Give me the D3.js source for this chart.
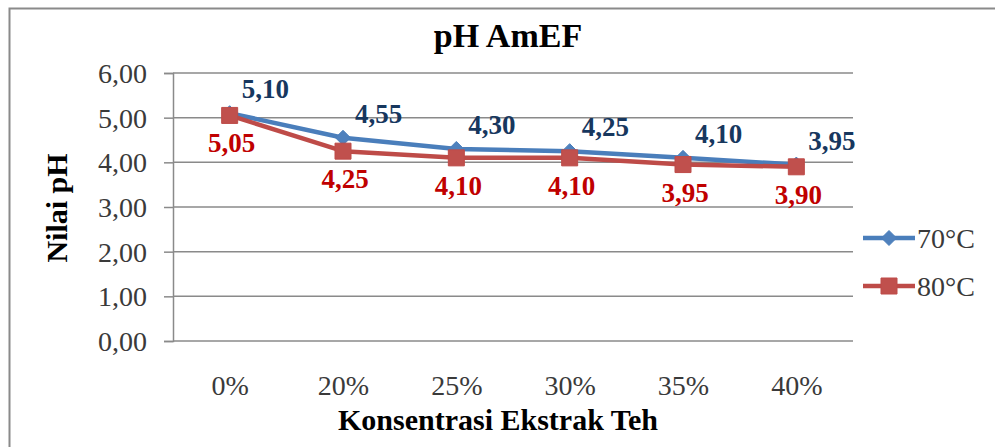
<!DOCTYPE html>
<html>
<head>
<meta charset="utf-8">
<script src="https://d3js.org/d3.v7.min.js"></script>
<style>
  body { margin: 0; background: #fff; }
  svg { display: block; font-family: "Liberation Serif", "Times New Roman", serif; }
</style>
</head>
<body>
<svg id="chart" width="995" height="447"></svg>
<script>
// data
var categories = ["0%", "20%", "25%", "30%", "35%", "40%"];
var seriesNames = ["70°C", "80°C"];
var values70 = [5.10, 4.55, 4.30, 4.25, 4.10, 3.95];
var values80 = [5.05, 4.25, 4.10, 4.10, 3.95, 3.90];
var yTicks = [0, 1, 2, 3, 4, 5, 6];

var fmt = function(v) { return v.toFixed(2).replace(".", ","); };

var svg = d3.select("#chart");

// chart border
svg.append("rect")
    .attr("x", 9.5).attr("y", 8.5)
    .attr("width", 1100).attr("height", 600)
    .attr("fill", "#fff")
    .attr("stroke", "#8a8a8a")
    .attr("stroke-width", 2);

var plot = { left: 173, right: 853, top: 73, bottom: 341 };

var x = d3.scalePoint()
    .domain(categories)
    .range([plot.left, plot.right])
    .padding(0.5);

var y = d3.scaleLinear()
    .domain([0, 6])
    .range([plot.bottom, plot.top]);

// gridlines + y axis
var yAxis = d3.axisLeft(y)
    .tickValues(yTicks)
    .tickSize(9)
    .tickFormat(fmt);

var gy = svg.append("g")
    .attr("transform", "translate(" + plot.left + ",0)")
    .call(yAxis);
gy.select(".domain").attr("stroke", "#8a8a8a").attr("stroke-width", 1.5);
gy.selectAll(".tick line").attr("stroke", "#8a8a8a").attr("stroke-width", 1.5);
gy.selectAll(".tick text")
    .attr("x", -26)
    .attr("dy", "0.34em")
    .attr("fill", "#3a3a3a")
    .style("font-size", "28px")
    .style("font-family", "Liberation Serif, serif");

svg.append("g").selectAll("line.grid")
    .data(yTicks)
    .enter().append("line")
    .attr("class", "grid")
    .attr("x1", plot.left).attr("x2", plot.right)
    .attr("y1", function(d) { return y(d); })
    .attr("y2", function(d) { return y(d); })
    .attr("stroke", "#8a8a8a")
    .attr("stroke-width", 1.5);

// x axis labels
var xAxis = d3.axisBottom(x).tickSize(0).tickPadding(34);
var gx = svg.append("g")
    .attr("transform", "translate(0," + plot.bottom + ")")
    .call(xAxis);
gx.select(".domain").remove();
gx.selectAll(".tick text")
    .attr("fill", "#3a3a3a")
    .style("font-size", "28px")
    .style("font-family", "Liberation Serif, serif");

// titles
svg.append("text")
    .attr("x", 508).attr("y", 47)
    .attr("text-anchor", "middle")
    .attr("font-weight", "bold")
    .style("font-size", "34px")
    .text("pH AmEF");

svg.append("text")
    .attr("x", 498).attr("y", 430)
    .attr("text-anchor", "middle")
    .attr("font-weight", "bold")
    .style("font-size", "30px")
    .text("Konsentrasi Ekstrak Teh");

svg.append("text")
    .attr("transform", "translate(67,208) rotate(-90)")
    .attr("text-anchor", "middle")
    .attr("font-weight", "bold")
    .style("font-size", "30px")
    .text("Nilai pH");

// series
var series = [
    { name: seriesNames[0], values: values70, line: "#4A7EBB", fill: "#4F81BD", label: "#17375E", marker: "diamond" },
    { name: seriesNames[1], values: values80, line: "#BE4B48", fill: "#C0504D", label: "#C00000", marker: "square" }
];

var line = d3.line()
    .x(function(d, i) { return x(categories[i]); })
    .y(function(d) { return y(d); });

var diamond = "M0,-7.5L7.5,0L0,7.5L-7.5,0Z";
var square = "M-8,-8H8V8H-8Z";

series.forEach(function(s) {
    svg.append("path")
        .datum(s.values)
        .attr("d", line)
        .attr("fill", "none")
        .attr("stroke", s.line)
        .attr("stroke-width", 4.5)
        .attr("stroke-linejoin", "round");

    svg.append("g").selectAll("path.mk")
        .data(s.values)
        .enter().append("path")
        .attr("class", "mk")
        .attr("transform", function(d, i) { return "translate(" + x(categories[i]) + "," + y(d) + ")"; })
        .attr("d", s.marker == "diamond" ? diamond : square)
        .attr("fill", s.fill)
        .attr("stroke", s.line)
        .attr("stroke-width", 1);
});

// data labels
svg.append("g").selectAll("text")
    .data(values70)
    .enter().append("text")
    .attr("x", function(d, i) { return x(categories[i]) + 12; })
    .attr("y", function(d) { return y(d) - 15; })
    .attr("fill", series[0].label)
    .attr("font-weight", "bold")
    .style("font-size", "27px")
    .text(fmt);

svg.append("g").selectAll("text")
    .data(values80)
    .enter().append("text")
    .attr("x", function(d, i) { return x(categories[i]) + 2; })
    .attr("y", function(d) { return y(d) + 37; })
    .attr("text-anchor", "middle")
    .attr("fill", series[1].label)
    .attr("font-weight", "bold")
    .style("font-size", "27px")
    .text(fmt);

// legend
var legend = svg.append("g").selectAll("g")
    .data(series)
    .enter().append("g")
    .attr("transform", function(d, i) { return "translate(863," + (238 + i * 48) + ")"; });

legend.append("line")
    .attr("x1", 0).attr("x2", 52)
    .attr("stroke", function(d) { return d.line; })
    .attr("stroke-width", 4.5);

legend.append("path")
    .attr("transform", "translate(26,0)")
    .attr("d", function(d) { return d.marker == "diamond" ? diamond : square; })
    .attr("fill", function(d) { return d.fill; })
    .attr("stroke", function(d) { return d.line; });

legend.append("text")
    .attr("x", 54)
    .attr("dy", "0.34em")
    .attr("fill", "#3a3a3a")
    .style("font-size", "28px")
    .text(function(d) { return d.name; });
</script>
</body>
</html>
